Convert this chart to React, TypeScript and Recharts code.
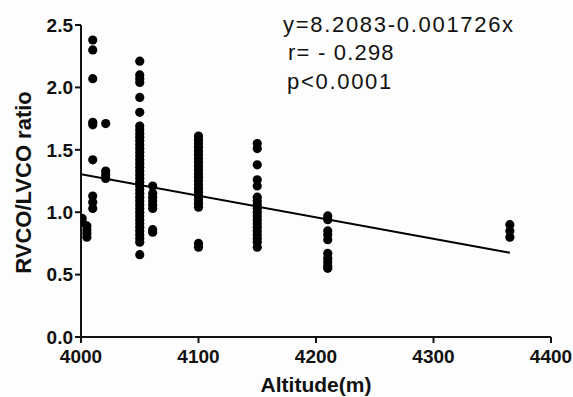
import { Scatter, ScatterChart, XAxis, YAxis } from 'recharts'

// ratio readings grouped by the altitude they were measured at
const altitudes = [4001, 4005, 4010, 4021, 4050, 4061, 4100, 4150, 4210, 4365]

const ratios4001 = [0.95, 0.92]
const ratios4005 = [0.89, 0.86, 0.83, 0.8]
const ratios4010 = [2.38, 2.3, 2.07, 1.72, 1.7, 1.42, 1.13, 1.08, 1.03]
const ratios4021 = [1.71, 1.33, 1.3, 1.27]
const ratios4050 = [
  2.21, 2.1, 2.07, 2.04, 1.92, 1.8, 1.69, 1.66, 1.63, 1.6, 1.57, 1.54, 1.51, 1.48, 1.45, 1.42,
  1.39, 1.36, 1.33, 1.3, 1.27, 1.24, 1.21, 1.18, 1.15, 1.12, 1.09, 1.06, 1.03, 1.0, 0.97, 0.94,
  0.91, 0.88, 0.85, 0.82, 0.79, 0.76, 0.66,
]
const ratios4061 = [1.21, 1.15, 1.12, 1.09, 1.06, 1.03, 0.86, 0.84]
const ratios4100 = [
  1.61, 1.58, 1.55, 1.52, 1.49, 1.46, 1.43, 1.4, 1.37, 1.34, 1.31, 1.28, 1.25, 1.22, 1.19, 1.16,
  1.13, 1.1, 1.07, 1.04, 0.75, 0.72,
]
const ratios4150 = [
  1.55, 1.51, 1.38, 1.26, 1.21, 1.12, 1.09, 1.06, 1.03, 1.0, 0.97, 0.94, 0.91, 0.88, 0.85, 0.82,
  0.79, 0.76, 0.72,
]
const ratios4210 = [0.97, 0.94, 0.85, 0.82, 0.78, 0.67, 0.63, 0.6, 0.57, 0.55]
const ratios4365 = [0.9, 0.85, 0.8]

const ratioGroups = [
  ratios4001, ratios4005, ratios4010, ratios4021, ratios4050,
  ratios4061, ratios4100, ratios4150, ratios4210, ratios4365,
]

const xTicks = [4000, 4100, 4200, 4300, 4400]
const yTicks = [0, 0.5, 1, 1.5, 2, 2.5]

// linear fit shown on the figure
const fitIntercept = 8.2083
const fitSlope = -0.001726
const fitX = [4000, 4365]

const annotation = ['y=8.2083-0.001726x', 'r= - 0.298', 'p<0.0001']

const points = altitudes.flatMap((alt, i) => ratioGroups[i].map((r) => ({ x: alt, y: r })))
const fitLine = fitX.map((x) => ({ x, y: fitIntercept + fitSlope * x }))

const font = '"Liberation Sans", Arial, sans-serif'
const tickStyle = { fontFamily: font, fontSize: 19, fontWeight: 700, fill: '#111' }

const Dot = (props: any) => <circle cx={props.cx} cy={props.cy} r={4.6} fill="#000" />

export default function App() {
  return (
    <div style={{ position: 'fixed', left: 0, top: 0, width: 573, height: 397, background: '#fdfdfd' }}>
      <ScatterChart width={573} height={397} margin={{ top: 25, right: 22, bottom: 0, left: 0 }}>
        <XAxis
          type="number"
          dataKey="x"
          domain={[4000, 4400]}
          ticks={xTicks}
          height={60}
          stroke="#111"
          strokeWidth={2}
          tickSize={6}
          tickMargin={7}
          tick={tickStyle}
          allowDataOverflow
        />
        <YAxis
          type="number"
          dataKey="y"
          domain={[0, 2.5]}
          ticks={yTicks}
          width={81}
          stroke="#111"
          strokeWidth={2}
          tickSize={6}
          tickMargin={2}
          tick={tickStyle}
          tickFormatter={(v: number) => v.toFixed(1)}
        />
        <Scatter data={points} shape={Dot} isAnimationActive={false} />
        <Scatter
          data={fitLine}
          line={{ stroke: '#000', strokeWidth: 2 }}
          shape={() => <g />}
          isAnimationActive={false}
        />
      </ScatterChart>
      <svg
        width={573}
        height={397}
        style={{ position: 'absolute', left: 0, top: 0, pointerEvents: 'none' }}
      >
        <text
          transform="translate(31,182.5) rotate(-90)"
          textAnchor="middle"
          fontFamily={font}
          fontSize={22}
          fontWeight={700}
          fill="#111"
        >
          RVCO/LVCO ratio
        </text>
        <text x={316} y={392} textAnchor="middle" fontFamily={font} fontSize={21} fontWeight={700} fill="#111">
          Altitude(m)
        </text>
        <text x={283} y={32} fontFamily={font} fontSize={22} letterSpacing={1.7} fill="#111">
          {annotation[0]}
        </text>
        <text x={288} y={60} fontFamily={font} fontSize={22} letterSpacing={1.2} fill="#111">
          {annotation[1]}
        </text>
        <text x={287} y={89} fontFamily={font} fontSize={22} letterSpacing={1.7} fill="#111">
          {annotation[2]}
        </text>
      </svg>
    </div>
  )
}
